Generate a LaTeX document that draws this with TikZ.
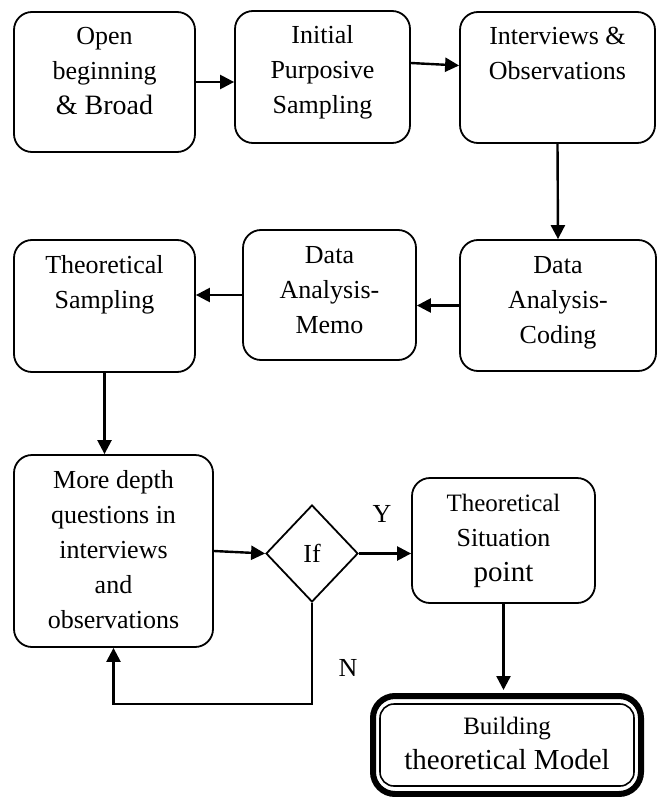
\documentclass[tikz,border=0pt]{standalone}
\usepackage{fontspec}
\setmainfont{Liberation Serif}
\usetikzlibrary{arrows.meta,shapes.geometric}

\begin{document}
\begin{tikzpicture}[x=0.5pt,y=-0.5pt,
	stage/.style={draw, line width=0.9pt, rounded corners=9pt, align=flush center, inner sep=0pt, text height=16.5pt, font=\fontsize{13}{17.5}\selectfont},
	decision/.style={diamond, draw, line width=0.9pt, inner sep=0pt, minimum width=46pt, minimum height=48.5pt, font=\fontsize{13}{17.5}\selectfont},
	flow/.style={line width=1.2pt, -{Triangle[length=7pt,width=7pt]}},
	tag/.style={font=\fontsize{13}{15}\selectfont}]
	\useasboundingbox (0,0) rectangle (657,797);
	\node[stage, text width=90.5pt, text depth=53.5pt] (open) at (104.5,82) {Open\\beginning\\{\fontsize{14}{17.5}\selectfont\& Broad}};
	\node[stage, text width=87.5pt, text depth=49.5pt] (initial) at (322.5,77) {Initial\\Purposive\\Sampling};
	\node[stage, text width=97.5pt, text depth=49pt] (interviews) at (557.5,77.5) {Interviews \&\\Observations};
	\node[stage, text width=98pt, text depth=49pt] (coding) at (558,305.5) {Data\\Analysis-\\Coding};
	\node[stage, text width=86.5pt, text depth=48.5pt] (memo) at (329.5,295) {Data\\Analysis-\\Memo};
	\node[stage, text width=90.5pt, text depth=49.5pt] (tsampling) at (104.5,306) {Theoretical\\Sampling};
	\node[stage, text width=99.5pt, text depth=79.5pt] (depth) at (113.5,551) {More depth\\questions in\\interviews\\and\\observations};
	\node[decision] (if) at (312,553.5) {If};
	\node[stage, text width=91.5pt, text depth=46pt] (situation) at (503.5,540.5) {{\fontsize{12.5}{17.5}\selectfont Theoretical}\\Situation\\{\fontsize{14.5}{17.5}\selectfont point}};
	\node[draw, line width=3pt, rounded corners=11pt, inner sep=0pt, minimum width=134pt, minimum height=49pt] (frame) at (507,745) {};
	\node[stage, line width=0.8pt, rounded corners=7pt, text width=127pt, text height=15pt, text depth=26pt] (model) at (507,745) {{\fontsize{12.5}{17.5}\selectfont Building}\\{\fontsize{14.5}{17.5}\selectfont theoretical Model}};
	\node[tag] (yes) at (382,514) {Y};
	\node[tag] (no) at (348,668) {N};
	\draw[flow] (open.east) -- (open.east -| initial.west);
	\draw[flow] ([yshift=7pt]initial.east) -- ([yshift=6pt]interviews.west);
	\draw[flow] (interviews.south) -- (coding.north);
	\draw[flow] (coding.west) -- (coding.west -| memo.east);
	\draw[flow] (memo.west) -- (memo.west -| tsampling.east);
	\draw[flow] (tsampling.south) -- (tsampling.south |- depth.north);
	\draw[flow] (depth.east) -- (if.west);
	\draw[flow] (if.east) -- (if.east -| situation.west);
	\draw[flow, shorten >=1.5pt] (situation.south) -- (situation.south |- frame.north);
	\draw[flow] (if.south) -- ++(0,101) -| (depth.south);
\end{tikzpicture}
\end{document}
